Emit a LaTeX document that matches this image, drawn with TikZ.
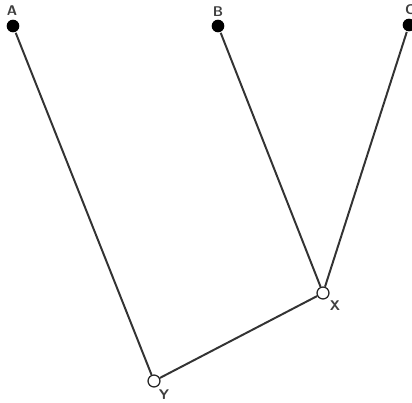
\documentclass[tikz,border=0pt]{standalone}
\usetikzlibrary{calc}

\begin{document}
\begin{tikzpicture}[x=0.025cm, y=-0.025cm, line width=1.4pt, font=\sffamily\bfseries,
  leafdot/.style={circle, fill=black, inner sep=0pt, minimum size=9},
  innerdot/.style={circle, draw=black!85, fill=white, line width=0.9pt, inner sep=0pt, minimum size=8.5}]
  \useasboundingbox (0, 0) rectangle (412, 402);

  % leaves
  \node[leafdot] (A) at (13, 26) {};
  \node[leafdot] (B) at (218, 26) {};
  \node[leafdot] (C) at (409, 25) {};

  % inner nodes
  \node[innerdot] (X) at (323, 293) {};
  \node[innerdot] (Y) at (154, 381) {};

  \draw[black!80] (A) -- (Y);
  \draw[black!80] (B) -- (X);
  \draw[black!80] (C) -- (X);
  \draw[black!80] (X) -- (Y);

  \node[black!75] (lA) at (12, 11) {A};
  \node[black!75] (lB) at (218, 12) {B};
  \node[black!75] (lC) at (410, 10) {C};
  \node[black!75] (lX) at (335, 306) {X};
  \node[black!75] (lY) at (164, 395) {Y};
\end{tikzpicture}
\end{document}
